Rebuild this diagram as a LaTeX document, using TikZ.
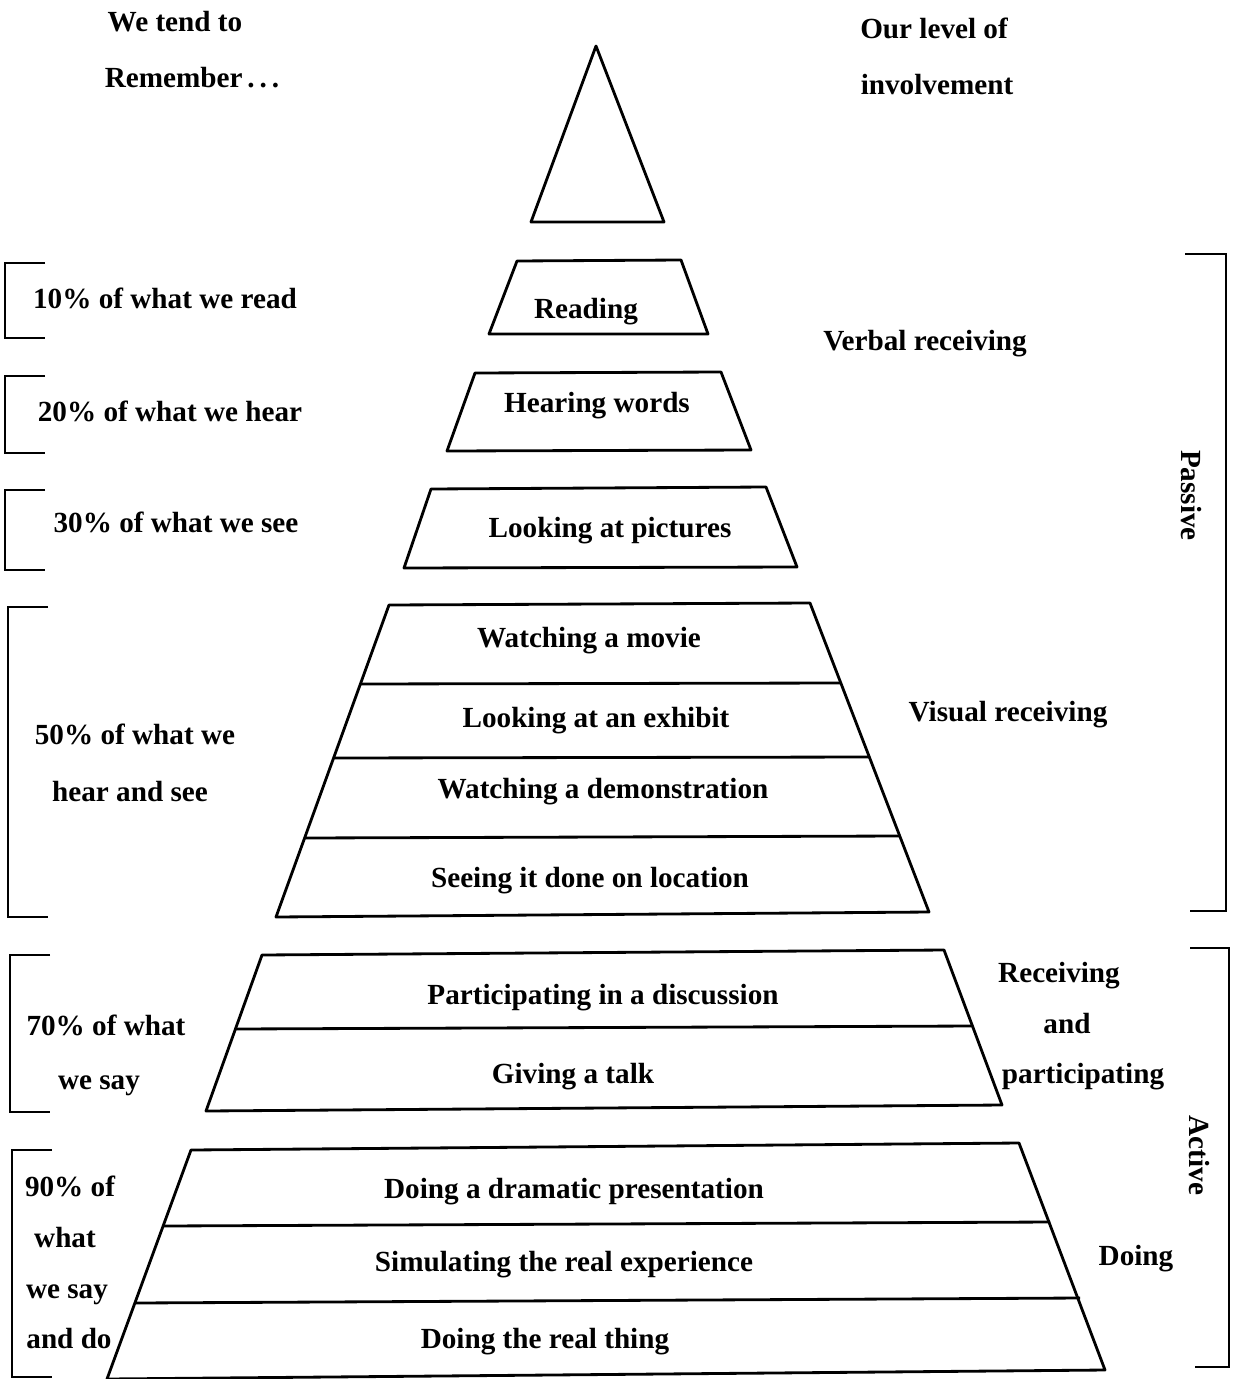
\documentclass[tikz,border=0pt]{standalone}
\usepackage{fontspec}
\setmainfont{Liberation Serif}
\begin{document}
\begin{tikzpicture}[x=0.01cm,y=-0.01cm,
    txt/.style={font=\bfseries\fontsize{8.3}{10}\selectfont,inner sep=0pt,
      text height=1.5ex,text depth=0.45ex,yshift=-1pt},
    layer/.style={line width=0.8pt,line join=round},
    brace/.style={line width=0.6pt}]
        \useasboundingbox (0,0) rectangle (1232,1379);
        % headings
        \node[txt] (tend) at (175,20) {We tend to};
        \node[txt] (remember) at (192,76) {Remember\,.\,.\,.};
        \node[txt] (level) at (934,27) {Our level of};
        \node[txt] (involve) at (937,83) {involvement};
        % pyramid
        \draw[layer] (596,46) -- (664,222) -- (531,222) -- cycle;
        \draw[layer] (517,261) -- (681,260) -- (708,334) -- (489,334) -- cycle;
        \draw[layer] (475,373) -- (721,372) -- (751,450) -- (447,451) -- cycle;
        \draw[layer] (431,489) -- (766,487) -- (797,567) -- (404,568) -- cycle;
        \draw[layer] (389,605) -- (810,603) -- (929,912) -- (276,917) -- cycle;
        \draw[layer] (360,684) -- (841,683);
        \draw[layer] (334,758) -- (870,757);
        \draw[layer] (305,838) -- (900,836);
        \draw[layer] (262,955) -- (944,950) -- (1002,1105) -- (206,1111) -- cycle;
        \draw[layer] (235,1029) -- (973,1026);
        \draw[layer] (191,1150) -- (1019,1143) -- (1105,1370) -- (107,1379) -- cycle;
        \draw[layer] (163,1226) -- (1050,1222);
        \draw[layer] (135,1303) -- (1080,1298);
        \node[txt] (read) at (586,307) {Reading};
        \node[txt] (hear) at (597,401) {Hearing words};
        \node[txt] (pict) at (610,526) {Looking at pictures};
        \node[txt] (movie) at (589,636) {Watching a movie};
        \node[txt] (exhibit) at (596,716) {Looking at an exhibit};
        \node[txt] (demo) at (603,787) {Watching a demonstration};
        \node[txt] (location) at (590,875) {Seeing it done on location};
        \node[txt] (discuss) at (603,992) {Participating in a discussion};
        \node[txt] (talk) at (573,1071) {Giving a talk};
        \node[txt] (drama) at (574,1186) {Doing a dramatic presentation};
        \node[txt] (simul) at (564,1259) {Simulating the real experience};
        \node[txt] (real) at (545,1336) {Doing the real thing};
        % left brackets
        \draw[brace] (45,263) -- (5,263) -- (5,338) -- (45,338);
        \draw[brace] (45,376) -- (5,376) -- (5,453) -- (45,453);
        \draw[brace] (45,490) -- (5,490) -- (5,570) -- (45,570);
        \draw[brace] (48,607) -- (8,607) -- (8,917) -- (48,917);
        \draw[brace] (50,955) -- (10,955) -- (10,1112) -- (50,1112);
        \draw[brace] (52,1150) -- (12,1150) -- (12,1377) -- (52,1377);
        \node[txt] (p10) at (165,297) {10\% of what we read};
        \node[txt] (p20) at (170,410) {20\% of what we hear};
        \node[txt] (p30) at (176,521) {30\% of what we see};
        \node[txt] (p50a) at (135,732) {50\% of what we};
        \node[txt] (p50b) at (130,790) {hear and see};
        \node[txt] (p70a) at (106,1023) {70\% of what};
        \node[txt] (p70b) at (99,1077) {we say};
        \node[txt] (p90a) at (70,1184) {90\% of};
        \node[txt] (p90b) at (65,1235) {what};
        \node[txt] (p90c) at (67,1286) {we say};
        \node[txt] (p90d) at (69,1336) {and do};
        % right side
        \node[txt] (verbal) at (925,339) {Verbal receiving};
        \node[txt] (visual) at (1008,710) {Visual receiving};
        \node[txt] (recv) at (1059,970) {Receiving};
        \node[txt] (and) at (1067,1021) {and};
        \node[txt] (partic) at (1083,1071) {participating};
        \node[txt] (doing) at (1136,1253) {Doing};
        \draw[brace] (1185,254) -- (1226,254) -- (1226,911) -- (1190,911);
        \draw[brace] (1190,948) -- (1229,948) -- (1229,1367) -- (1195,1367);
        \node[txt,rotate=-90] (passive) at (1190,492) {Passive};
        \node[txt,rotate=-90] (active) at (1198,1152) {Active};
\end{tikzpicture}
\end{document}
